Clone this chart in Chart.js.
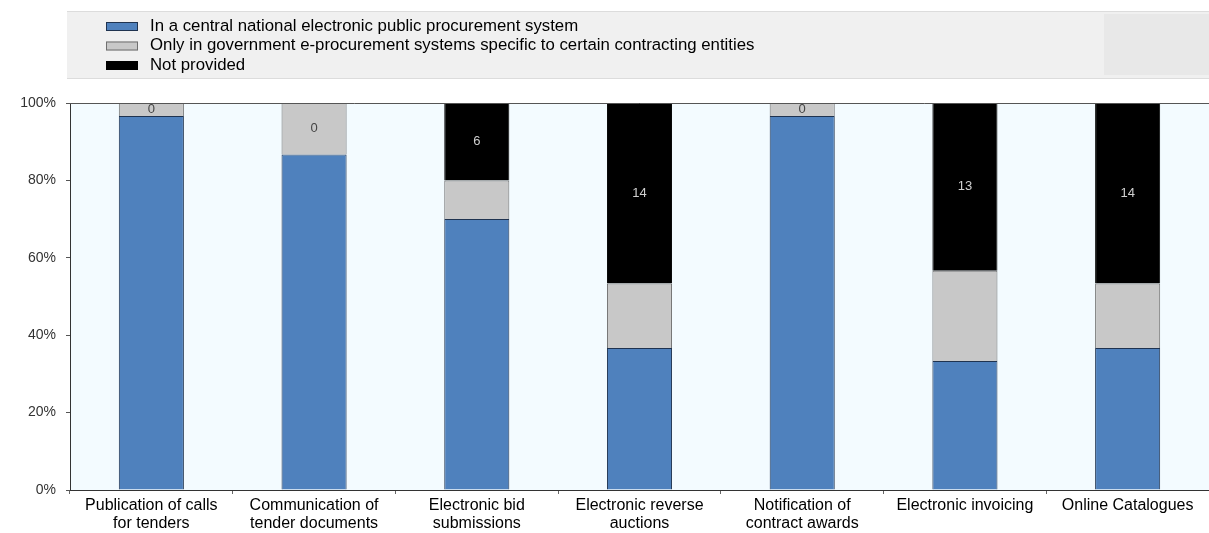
<!DOCTYPE html>
<html>
<head>
<meta charset="utf-8">
<script src="https://cdn.jsdelivr.net/npm/chart.js@4.4.0/dist/chart.umd.min.js"></script>
<style>
	html, body { margin: 0; padding: 0; background: #fff; }
	#wrap { width: 1209px; height: 533px; position: relative; }
</style>
</head>
<body>
<div id="wrap"><canvas id="myChart" width="1209" height="533"></canvas></div>
<script>
// categories and counts of countries (30 respondents)
const categories = [
	['Publication of calls', 'for tenders'],
	['Communication of', 'tender documents'],
	['Electronic bid', 'submissions'],
	['Electronic reverse', 'auctions'],
	['Notification of', 'contract awards'],
	'Electronic invoicing',
	'Online Catalogues'
];
const central = [29, 26, 21, 11, 29, 10, 11];
const specific = [1, 4, 3, 5, 1, 7, 5];
const notProvided = [0, 0, 6, 14, 0, 13, 14];
const seriesNames = [
	'In a central national electronic public procurement system',
	'Only in government e-procurement systems specific to certain contracting entities',
	'Not provided'
];
const yTicks = [0, 20, 40, 60, 80, 100];

const totals = central.map((v, i) => v + specific[i] + notProvided[i]);
const pct = arr => arr.map((v, i) => v / totals[i] * 100);

const FONT = "'Liberation Sans Narrow', 'Liberation Sans', Arial, sans-serif";

// legend box + plot background
const backdrop = {
	id: 'backdrop',
	beforeDraw(chart) {
		const c = chart.ctx;
		const a = chart.chartArea;
		c.save();
		c.fillStyle = '#f0f0f0';
		c.fillRect(67, 11, 1142, 68);
		c.fillStyle = '#e8e8e8';
		c.fillRect(1104, 14, 105, 61);
		c.fillStyle = '#dcdcdc';
		c.fillRect(67, 11, 1142, 1);
		c.fillRect(67, 78, 1142, 1);
		c.fillStyle = '#f3fbff';
		c.fillRect(a.left, a.top, a.right - a.left, a.bottom - a.top);
		// legend entries
		c.font = '16.8px ' + FONT;
		c.textBaseline = 'middle';
		chart.data.datasets.forEach((ds, i) => {
			const y = 26 + i * 19.5;
			c.fillStyle = ds.backgroundColor;
			c.fillRect(106, y - 4, 32, 9);
			c.strokeStyle = ds.borderColor;
			c.lineWidth = 1;
			c.strokeRect(106.5, y - 3.5, 31, 8);
			c.fillStyle = '#000';
			c.fillText(ds.label, 150, y);
		});
		c.restore();
	},
	afterDraw(chart) {
		const c = chart.ctx;
		const a = chart.chartArea;
		c.save();
		c.strokeStyle = '#555';
		c.lineWidth = 1;
		c.beginPath();
		c.moveTo(a.left, a.top + 0.5);
		c.lineTo(a.right, a.top + 0.5);
		c.stroke();
		c.restore();
	}
};

// counts of "Not provided" written in the bars
const countLabels = {
	id: 'countLabels',
	afterDatasetsDraw(chart) {
		const c = chart.ctx;
		const grey = chart.getDatasetMeta(1).data;
		const black = chart.getDatasetMeta(2).data;
		c.save();
		c.font = '13px ' + FONT;
		c.textAlign = 'center';
		c.textBaseline = 'middle';
		notProvided.forEach((v, i) => {
			let el = black[i];
			c.fillStyle = '#d0d0d0';
			if (v === 0) {
				el = grey[i];
				c.fillStyle = '#444';
			}
			c.fillText(String(v), el.x, (el.y + el.base) / 2);
		});
		c.restore();
	}
};

let myChart = new Chart(document.getElementById('myChart'), {
	type: 'bar',
	data: {
		labels: categories,
		datasets: [{
			label: seriesNames[0],
			data: pct(central),
			backgroundColor: '#4f81bd',
			borderColor: '#1f3350',
			borderWidth: 1
		}, {
			label: seriesNames[1],
			data: pct(specific),
			backgroundColor: '#c8c8c8',
			borderColor: '#6f6f6f',
			borderWidth: 1
		}, {
			label: seriesNames[2],
			data: pct(notProvided),
			backgroundColor: '#000000',
			borderColor: '#000000',
			borderWidth: 1
		}]
	},
	options: {
		responsive: false,
		animation: false,
		categoryPercentage: 1,
		barPercentage: 0.4,
		layout: { padding: { top: 103, right: 0, left: 0, bottom: 0 } },
		plugins: {
			legend: { display: false },
			tooltip: { enabled: false }
		},
		scales: {
			x: {
				stacked: true,
				grid: { offset: true, drawOnChartArea: false, tickLength: 4, color: '#666' },
				border: { color: '#333', width: 1 },
				ticks: { color: '#000', font: { family: FONT, size: 16, lineHeight: 1.1 }, padding: 3, maxRotation: 0, autoSkip: false },
				afterFit(scale) { scale.height = 43; }
			},
			y: {
				stacked: true,
				min: 0,
				max: 100,
				afterBuildTicks(scale) { scale.ticks = yTicks.map(v => ({ value: v })); },
				grid: { drawOnChartArea: false, tickLength: 4, color: '#555' },
				border: { color: '#333', width: 1 },
				ticks: { color: '#333', font: { family: "'Liberation Sans', Arial, sans-serif", size: 14 }, padding: 10, callback: v => v + '%' },
				afterFit(scale) { scale.width = 70; }
			}
		}
	},
	plugins: [backdrop, countLabels]
});
</script>
</body>
</html>
